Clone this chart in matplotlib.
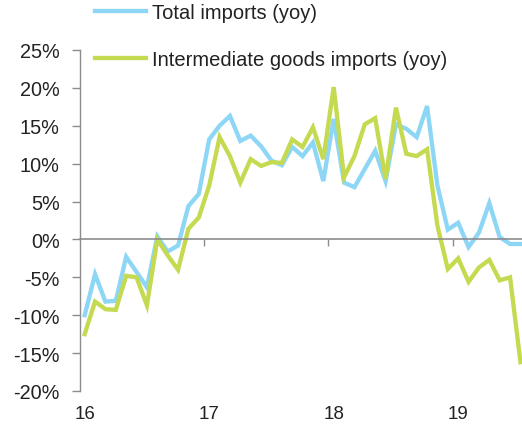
import matplotlib
matplotlib.use("Agg")
import matplotlib.pyplot as plt
import matplotlib.transforms as mtransforms
import numpy as np

# Monthly data, Jan 2016 .. Jul 2019
total_imports = [-10.0, -4.6, -8.2, -8.1, -2.3, -4.3, -6.3, 0.4, -1.6, -0.8, 4.4, 6.0,
                 13.2, 15.0, 16.3, 13.0, 13.7, 12.3, 10.4, 9.8, 12.2, 11.0, 12.8, 7.7,
                 15.9, 7.5, 6.9, 9.3, 11.7, 7.7, 15.2, 14.6, 13.5, 17.6, 7.1, 1.3,
                 2.2, -1.0, 0.9, 4.8, 0.3, -0.6, -0.6]
intermediate_imports = [-12.5, -8.2, -9.2, -9.3, -4.8, -5.0, -8.7, 0.0, -2.1, -4.0, 1.4, 2.9,
                        7.1, 13.5, 11.0, 7.5, 10.6, 9.7, 10.2, 10.1, 13.2, 12.2, 14.8, 10.6,
                        20.1, 8.2, 11.0, 15.2, 16.0, 8.0, 17.4, 11.3, 11.0, 11.9, 1.8,
                        -3.9, -2.5, -5.6, -3.7, -2.7, -5.4, -5.0, -16.2]
year_labels = ["16", "17", "18", "19"]
year_start_index = [0, 12, 24, 36]
series_names = ["Total imports (yoy)", "Intermediate goods imports (yoy)"]
y_ticks = [-20, -15, -10, -5, 0, 5, 10, 15, 20, 25]

plt.rcParams['font.family'] = ['Liberation Sans', 'DejaVu Sans']
FS_LEG = 14.5
FS_Y = 14.3
FS_X = 13.5
blue = '#8DD6F6'
green = '#C5DA50'
gray = '#8C8C8C'
txt = '#222222'

W, H = 522, 427
fig = plt.figure(figsize=(W / 100, H / 100), dpi=100)
ax = fig.add_axes([80 / W, 35 / H, (W - 80) / W, 341 / H])

x = np.arange(len(total_imports))
l1, = ax.plot(x, total_imports, color=blue, lw=3.1, solid_joinstyle='miter', label=series_names[0])
l2, = ax.plot(x, intermediate_imports, color=green, lw=3.1, solid_joinstyle='miter', label=series_names[1])

ax.set_xlim(-0.45, 42.15)
ax.set_ylim(-20, 25)

ax.set_yticks(y_ticks)
ax.set_yticklabels([f"{v}%" for v in y_ticks], fontsize=FS_Y, color=txt)
ax.tick_params(axis='y', direction='out', length=6, width=1, color=gray, pad=8.5)

for s in ['top', 'right']:
    ax.spines[s].set_visible(False)
ax.spines['left'].set_color(gray)
ax.spines['left'].set_linewidth(1)
ax.spines['bottom'].set_position(('data', 0))
ax.spines['bottom'].set_color(gray)
ax.spines['bottom'].set_linewidth(1.2)

bounds = [i - 0.5 for i in year_start_index[1:]]
ax.set_xticks(bounds)
ax.set_xticklabels([])
ax.tick_params(axis='x', direction='out', length=5, width=1, color=gray)

trans = mtransforms.blended_transform_factory(ax.transData, ax.transAxes)
for lab, pos in zip(year_labels, year_start_index):
    ax.text(pos, -0.0674, lab, transform=trans, ha='center', va='center',
            fontsize=FS_X, color=txt)

leg = fig.legend(handles=[l1, l2], loc='upper left', bbox_to_anchor=(95 / W, 1 - 4 / H),
                 frameon=False, fontsize=FS_LEG, handlelength=2.55, handletextpad=0.28,
                 borderpad=0, borderaxespad=0, labelspacing=1.38)
for t in leg.get_texts():
    t.set_color(txt)

fig.savefig('out.png', dpi=100)
